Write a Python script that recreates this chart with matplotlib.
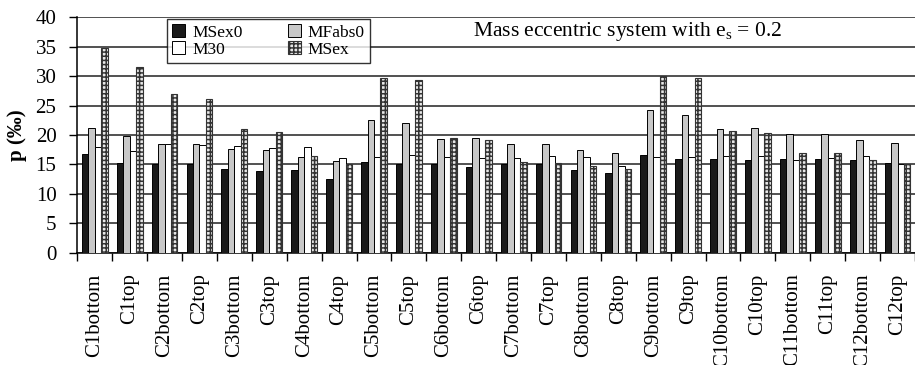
import numpy as np
import matplotlib
matplotlib.use('Agg')
import matplotlib.pyplot as plt

plt.rcParams['font.family'] = ['Liberation Serif', 'DejaVu Serif']
plt.rcParams['hatch.linewidth'] = 1.1

labels = ['C1bottom', 'C1top', 'C2bottom', 'C2top', 'C3bottom', 'C3top',
          'C4bottom', 'C4top', 'C5bottom', 'C5top', 'C6bottom', 'C6top',
          'C7bottom', 'C7top', 'C8bottom', 'C8top', 'C9bottom', 'C9top',
          'C10bottom', 'C10top', 'C11bottom', 'C11top', 'C12bottom', 'C12top']

msex0 = [16.7, 15.2, 15.0, 15.0, 14.3, 13.9, 14.1, 12.6, 15.4, 15.0, 15.0, 14.6,
         15.0, 15.0, 14.1, 13.5, 16.6, 15.9, 15.9, 15.8, 15.9, 15.9, 15.8, 15.2]
mfabs0 = [21.2, 19.9, 18.5, 18.4, 17.7, 17.4, 16.3, 15.6, 22.6, 22.0, 19.4, 19.5,
          18.4, 18.4, 17.4, 17.0, 24.2, 23.4, 21.0, 21.2, 20.1, 20.1, 19.1, 18.6]
m30 = [17.9, 17.2, 18.5, 18.3, 18.1, 17.8, 17.9, 16.1, 16.3, 16.6, 16.2, 16.1,
       16.1, 16.4, 16.2, 14.7, 16.2, 16.2, 16.5, 16.5, 15.8, 16.1, 16.5, 15.0]
msex = [34.7, 31.5, 26.9, 26.1, 21.0, 20.5, 16.5, 15.1, 29.6, 29.3, 19.5, 19.1,
        15.4, 15.3, 14.7, 14.3, 30.0, 29.7, 20.6, 20.3, 16.9, 17.0, 15.7, 15.0]

x = np.arange(len(labels))
w = 0.185

fig = plt.figure(figsize=(9.15, 3.65), dpi=100)
ax = fig.add_axes([0.0845, 0.3077, 0.9155, 0.645])

ax.bar(x - 1.5*w, msex0, w, color='#1a1a1a', edgecolor='black', linewidth=0.7, label='MSex0', zorder=3)
ax.bar(x - 0.5*w, mfabs0, w, color='#c8c8c8', edgecolor='black', linewidth=0.7, label='MFabs0', zorder=3)
ax.bar(x + 0.5*w, m30, w, color='white', edgecolor='black', linewidth=0.7, label='M30', zorder=3)
ax.bar(x + 1.5*w, msex, w, color='#e8e8e8', edgecolor='#333333', hatch='++++', linewidth=0.8, label='MSex', zorder=3)

# the original chart is cropped on the right, inside the last group
ax.set_xlim(-0.5, 23.19)
ax.set_ylim(0, 40)
ax.set_yticks(np.arange(0, 41, 5))
ax.yaxis.grid(True, color='#222222', linewidth=1.1, zorder=0)
ax.set_axisbelow(True)

# ticks at group boundaries, labels at group centres
ax.set_xticks(np.arange(-0.5, 24, 1))
ax.set_xticklabels([])
ax.set_xticks(x, minor=True)
ax.set_xticklabels(labels, minor=True, rotation=90, va='top', fontsize=15)
ax.tick_params(axis='x', which='major', direction='out', length=6, width=1)
ax.tick_params(axis='x', which='minor', length=0, pad=15)
ax.tick_params(axis='y', direction='out', length=6, width=1, pad=9, labelsize=15)

for s in ['top', 'right']:
    ax.spines[s].set_visible(False)
ax.spines['left'].set_linewidth(1.1)
ax.spines['bottom'].set_linewidth(1.1)

ax.set_ylabel('p (‰)', fontsize=15, fontweight='bold', labelpad=6)

h, l = ax.get_legend_handles_labels()
order = [0, 2, 1, 3]
leg = ax.legend([h[i] for i in order], [l[i] for i in order], ncol=2,
                loc='upper left', bbox_to_anchor=(0.107, 0.993), borderaxespad=0,
                fontsize=12.5, frameon=True, fancybox=False, edgecolor='black',
                handlelength=0.75, handleheight=0.75, handletextpad=0.4,
                columnspacing=2.6, labelspacing=0.05, borderpad=0.3)
leg.get_frame().set_linewidth(1.0)
leg.set_zorder(5)

ax.text(15.28, 37.6, 'Mass eccentric system with e$_\\mathregular{s}$ = 0.2',
        ha='center', va='center', fontsize=15.5)

fig.savefig('out.png', dpi=100)
